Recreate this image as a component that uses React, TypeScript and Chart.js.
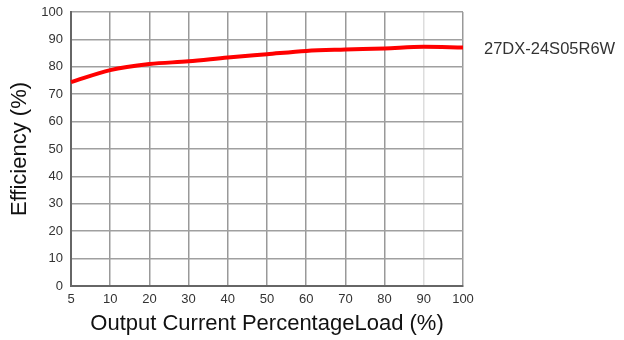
import React, { useEffect, useRef } from "react";
import { Chart, registerables } from "chart.js";

Chart.register(...registerables);

const loadLabels = ["5", "10", "20", "30", "40", "50", "60", "70", "80", "90", "100"];
const efficiency = [74.4, 78.8, 81.0, 82.0, 83.4, 84.6, 85.8, 86.3, 86.7, 87.3, 87.0];
const seriesName = "27DX-24S05R6W";
const yTitle = "Efficiency (%)";
const xTitle = "Output Current PercentageLoad (%)";

const FONT = "'Liberation Sans', Arial, sans-serif";

const seriesLabelPlugin = {
  id: "seriesLabel",
  afterDraw(chart: any) {
    const ctx = chart.ctx;
    ctx.save();
    ctx.font = `16.5px ${FONT}`;
    ctx.fillStyle = "#333333";
    ctx.textBaseline = "middle";
    ctx.textAlign = "left";
    ctx.fillText(chart.data.datasets[0].label, chart.chartArea.right + 21, 49);
    ctx.restore();
  },
};

export default function App() {
  const ref = useRef<HTMLCanvasElement>(null);
  useEffect(() => {
    if (!ref.current) return;
    const chart = new Chart(ref.current, {
      type: "line",
      data: {
        labels: loadLabels,
        datasets: [
          {
            label: seriesName,
            data: efficiency,
            borderColor: "#ff0000",
            backgroundColor: "#ff0000",
            borderWidth: 4,
            pointRadius: 0,
            cubicInterpolationMode: "monotone",
            fill: false,
          },
        ],
      },
      options: {
        responsive: false,
        animation: false,
        layout: { padding: { left: 0, top: 12, right: 161, bottom: 0 } },
        plugins: { legend: { display: false }, tooltip: { enabled: false } },
        scales: {
          x: {
            type: "category",
            offset: false,
            grid: {
              color: (c: any) => (c.index === 9 ? "#dddddd" : "#999999"),
              lineWidth: 1.5,
              drawTicks: false,
            },
            border: { color: "#666666", width: 2 },
            ticks: {
              padding: 6,
              color: "#333333",
              font: { family: FONT, size: 13 },
              maxRotation: 0,
              autoSkip: false,
            },
            title: {
              display: true,
              text: xTitle,
              color: "#111111",
              font: { family: FONT, size: 22 },
              padding: { top: 0, bottom: 3 },
            },
            afterFit(scale: any) {
              scale.height = 54;
            },
          },
          y: {
            min: 0,
            max: 100,
            ticks: {
              stepSize: 10,
              padding: 2,
              color: "#333333",
              font: { family: FONT, size: 13 },
            },
            grid: {
              color: "#a0a0a0",
              lineWidth: 1.5,
              drawTicks: true,
              tickLength: 6,
              tickColor: "rgba(0,0,0,0)",
            },
            border: { color: "#666666", width: 2 },
            title: {
              display: true,
              text: yTitle,
              color: "#111111",
              font: { family: FONT, size: 22 },
              padding: { top: 7, bottom: 0 },
            },
            afterFit(scale: any) {
              scale.width = 71;
            },
          },
        },
      },
      plugins: [seriesLabelPlugin],
    } as any);
    return () => chart.destroy();
  }, []);
  return (
    <div style={{ position: "fixed", left: 0, top: 0, width: 624, height: 340, background: "#fff" }}>
      <canvas ref={ref} width={624} height={340} />
    </div>
  );
}
